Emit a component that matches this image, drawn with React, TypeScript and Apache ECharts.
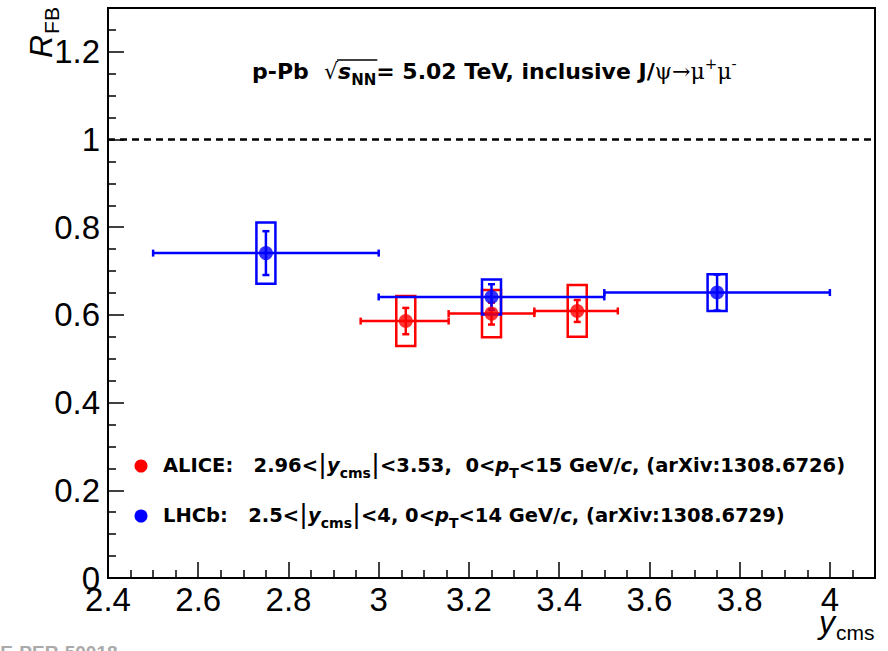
import { useEffect, useRef } from 'react';
import * as echarts from 'echarts';

// ALICE inclusive J/psi forward-backward ratio vs y_cms
const aliceYcms = [3.06, 3.25, 3.44];
const aliceYcmsLow = [2.96, 3.155, 3.345];
const aliceYcmsHigh = [3.155, 3.345, 3.53];
const aliceRfb = [0.586, 0.603, 0.609];
const aliceStat = [0.03, 0.025, 0.025];
const aliceSyst = [0.057, 0.054, 0.059];

// LHCb inclusive J/psi forward-backward ratio vs y_cms
const lhcbYcms = [2.75, 3.25, 3.75];
const lhcbYcmsLow = [2.5, 3.0, 3.5];
const lhcbYcmsHigh = [3.0, 3.5, 4.0];
const lhcbRfb = [0.741, 0.641, 0.651];
const lhcbStat = [0.05, 0.029, 0.041];
const lhcbSyst = [0.07, 0.04, 0.042];

const referenceLevel = 1;
const xRange = [2.4, 4.1];
const yRange = [0, 1.3];
const xStep = 0.2;
const yStep = 0.2;

const RED = '#ff0000';
const BLUE = '#0000ff';
const SANS = "'Liberation Sans', Arial, Helvetica, sans-serif";
const WIDE = "'DejaVu Sans', 'Liberation Sans', sans-serif";
const SERIF = "'DejaVu Serif', 'Liberation Serif', serif";

const errorRows = (x: number[], lo: number[], hi: number[], y: number[], s: number[]) =>
  x.map((v, i) => [v, y[i], lo[i], hi[i], s[i]]);
const boxRows = (x: number[], y: number[], s: number[]) => x.map((v, i) => [v, y[i], s[i]]);
const pointRows = (x: number[], y: number[]) => x.map((v, i) => [v, y[i]]);

function errorBars(color: string) {
  return (_p: any, api: any) => {
    const x = api.value(0);
    const y = api.value(1);
    const lo = api.value(2);
    const hi = api.value(3);
    const s = api.value(4);
    const c = api.coord([x, y]);
    const l = api.coord([lo, y]);
    const r = api.coord([hi, y]);
    const t = api.coord([x, y + s]);
    const b = api.coord([x, y - s]);
    const st = { stroke: color, lineWidth: 2.5 };
    const cap = 3.5;
    return {
      type: 'group',
      children: [
        { type: 'line', shape: { x1: l[0], y1: c[1], x2: r[0], y2: c[1] }, style: st },
        { type: 'line', shape: { x1: l[0], y1: c[1] - cap, x2: l[0], y2: c[1] + cap }, style: st },
        { type: 'line', shape: { x1: r[0], y1: c[1] - cap, x2: r[0], y2: c[1] + cap }, style: st },
        { type: 'line', shape: { x1: c[0], y1: t[1], x2: c[0], y2: b[1] }, style: st },
        { type: 'line', shape: { x1: c[0] - cap, y1: t[1], x2: c[0] + cap, y2: t[1] }, style: st },
        { type: 'line', shape: { x1: c[0] - cap, y1: b[1], x2: c[0] + cap, y2: b[1] }, style: st },
      ],
    };
  };
}

function systBoxes(color: string) {
  return (_p: any, api: any) => {
    const x = api.value(0);
    const y = api.value(1);
    const s = api.value(2);
    const t = api.coord([x, y + s]);
    const b = api.coord([x, y - s]);
    const half = 9.5;
    return {
      type: 'rect',
      shape: { x: t[0] - half, y: t[1], width: half * 2, height: b[1] - t[1] },
      style: { fill: 'none', stroke: color, lineWidth: 2.5 },
    };
  };
}

function dataset(color: string, x: number[], lo: number[], hi: number[], y: number[], stat: number[], syst: number[]) {
  return [
    { type: 'custom', renderItem: systBoxes(color), data: boxRows(x, y, syst), encode: { x: 0, y: 1 }, silent: true },
    { type: 'custom', renderItem: errorBars(color), data: errorRows(x, lo, hi, y, stat), encode: { x: 0, y: 1 }, silent: true },
    { type: 'scatter', data: pointRows(x, y), symbol: 'circle', symbolSize: 14, itemStyle: { color }, silent: true },
  ];
}

const axisCommon = {
  axisLine: { show: true, lineStyle: { color: '#000', width: 2 } },
  axisTick: { show: true, inside: true, length: 16, lineStyle: { color: '#000', width: 1.5 } },
  minorTick: { show: true, splitNumber: 4, length: 8, lineStyle: { color: '#000', width: 1.5 } },
  splitLine: { show: false },
  minorSplitLine: { show: false },
};

const legendMain = { fontFamily: WIDE, fontWeight: 'bold', fontSize: 19.5, color: '#000', padding: [5, 0, 0, 0], verticalAlign: 'top' };
const legendRich = {
  b: legendMain,
  i: { ...legendMain, fontStyle: 'italic' },
  bar: { fontFamily: SANS, fontSize: 27, color: '#000', padding: [0, 1, 0, 1], verticalAlign: 'top' },
  sub: { fontFamily: WIDE, fontWeight: 'bold', fontSize: 14, color: '#000', padding: [16, 0, 0, 0], verticalAlign: 'top' },
};

const TITLE_X = 252;
const TITLE_TOP = 55;
const TITLE_SIZE = 22;
const TITLE_SUB = 15;

function textWidth(text: string, font: string) {
  const ctx = document.createElement('canvas').getContext('2d');
  if (!ctx) return 0;
  ctx.font = font;
  return ctx.measureText(text).width;
}

export default function App() {
  const ref = useRef<HTMLDivElement>(null);

  useEffect(() => {
    if (!ref.current) return;
    const chart = echarts.init(ref.current, undefined, { renderer: 'svg' });

    // overline of the square root spans "s" and its "NN" subscript
    const rootStart =
      TITLE_X +
      textWidth('p-Pb  ', `bold ${TITLE_SIZE}px ${WIDE}`) +
      textWidth('√', `${TITLE_SIZE}px ${WIDE}`);
    const rootEnd =
      rootStart +
      textWidth('s', `italic bold ${TITLE_SIZE}px ${WIDE}`) +
      textWidth('NN', `bold ${TITLE_SUB}px ${WIDE}`) + 1;

    chart.setOption({
      animation: false,
      backgroundColor: '#fff',
      grid: { left: 108, right: 13, top: 8, bottom: 73, show: true, borderColor: '#000', borderWidth: 2, backgroundColor: 'transparent' },
      xAxis: {
        type: 'value',
        min: xRange[0],
        max: xRange[1],
        interval: xStep,
        ...axisCommon,
        axisLabel: { color: '#000', fontSize: 33, fontFamily: SANS, margin: 5, showMaxLabel: false },
      },
      yAxis: {
        type: 'value',
        min: yRange[0],
        max: yRange[1],
        interval: yStep,
        ...axisCommon,
        axisLabel: { color: '#000', fontSize: 33, fontFamily: SANS, margin: 8, showMaxLabel: false },
      },
      series: [
        ...dataset(RED, aliceYcms, aliceYcmsLow, aliceYcmsHigh, aliceRfb, aliceStat, aliceSyst),
        ...dataset(BLUE, lhcbYcms, lhcbYcmsLow, lhcbYcmsHigh, lhcbRfb, lhcbStat, lhcbSyst),
        {
          type: 'line',
          data: [],
          silent: true,
          markLine: {
            silent: true,
            symbol: 'none',
            label: { show: false },
            lineStyle: { color: '#000', width: 2.5, type: [7, 5] },
            data: [{ yAxis: referenceLevel }],
          },
        },
      ],
      graphic: [
        {
          type: 'text',
          x: TITLE_X,
          y: TITLE_TOP,
          style: {
            text: '{b|p-Pb  }{sq|√}{si|s}{sub|NN}{b|= 5.02 TeV, inclusive J/}{g|ψ→μ}{sup|+}{g|μ}{sup|-}',
            rich: {
              b: { ...legendMain, fontSize: TITLE_SIZE },
              sq: { fontFamily: WIDE, fontSize: TITLE_SIZE, color: '#000', padding: [5, 0, 0, 0], verticalAlign: 'top' },
              si: { ...legendMain, fontSize: TITLE_SIZE, fontStyle: 'italic' },
              sub: { fontFamily: WIDE, fontWeight: 'bold', fontSize: TITLE_SUB, color: '#000', padding: [17, 0, 0, 0], verticalAlign: 'top' },
              g: { fontFamily: SERIF, fontSize: TITLE_SIZE, color: '#000', padding: [5, 0, 0, 0], verticalAlign: 'top' },
              sup: { fontFamily: SERIF, fontSize: 15, color: '#000', padding: [1, 0, 0, 0], verticalAlign: 'top' },
            },
          },
        },
        { type: 'line', shape: { x1: rootStart - 1, y1: 60, x2: rootEnd, y2: 60 }, style: { stroke: '#000', lineWidth: 1.3 } },
        { type: 'circle', shape: { cx: 141, cy: 466, r: 6.5 }, style: { fill: RED } },
        { type: 'circle', shape: { cx: 141, cy: 516, r: 6.5 }, style: { fill: BLUE } },
        {
          type: 'text',
          x: 163,
          y: 450,
          style: {
            text: '{b|ALICE:   2.96<}{bar||}{i|y}{sub|cms}{bar||}{b|<3.53,  0<}{i|p}{sub|T}{b|<15 GeV/}{i|c}{b|, (arXiv:1308.6726)}',
            rich: legendRich,
          },
        },
        {
          type: 'text',
          x: 163,
          y: 500,
          style: {
            text: '{b|LHCb:   2.5<}{bar||}{i|y}{sub|cms}{bar||}{b|<4, 0<}{i|p}{sub|T}{b|<14 GeV/}{i|c}{b|, (arXiv:1308.6729)}',
            rich: legendRich,
          },
        },
        {
          type: 'text',
          x: 25,
          y: 58,
          rotation: Math.PI / 2,
          style: {
            text: '{r|R}{s|FB}',
            rich: {
              r: { fontFamily: SANS, fontStyle: 'italic', fontSize: 32, color: '#000', verticalAlign: 'top' },
              s: { fontFamily: SANS, fontSize: 21, color: '#000', padding: [16, 0, 0, 1], verticalAlign: 'top' },
            },
          },
        },
        {
          type: 'text',
          x: 819,
          y: 606,
          style: {
            text: '{r|y}{s|cms}',
            rich: {
              r: { fontFamily: SANS, fontStyle: 'italic', fontSize: 32, color: '#000', verticalAlign: 'top' },
              s: { fontFamily: SANS, fontSize: 21, color: '#000', padding: [16, 0, 0, 1], verticalAlign: 'top' },
            },
          },
        },
        {
          type: 'text',
          x: -44,
          y: 643,
          style: { text: 'ALICE-PER-50018', fontFamily: SANS, fontSize: 19, fontWeight: 'bold', fill: '#aaa' },
        },
      ],
    });
    return () => chart.dispose();
  }, []);

  return <div ref={ref} style={{ position: 'fixed', left: 0, top: 0, width: 888, height: 651 }} />;
}
